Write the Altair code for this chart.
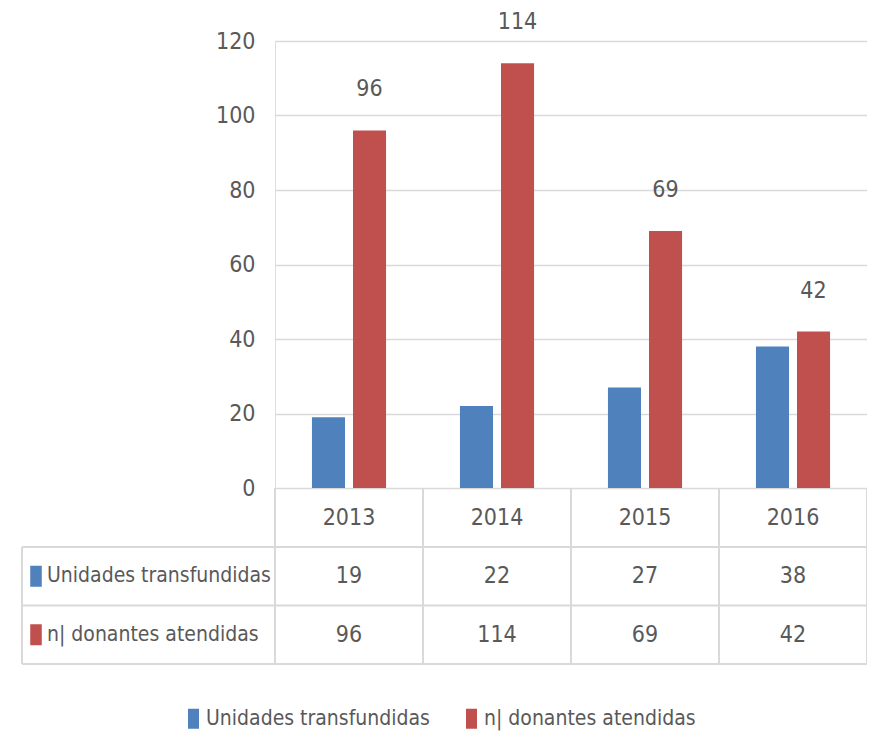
import altair as alt
import pandas as pd

years = ["2013", "2014", "2015", "2016"]
series = ["Unidades transfundidas", "n| donantes atendidas"]
unidades = [19, 22, 27, 38]
donantes = [96, 114, 69, 42]
colors = ["#4F81BD", "#C0504D"]
y_ticks = [0, 20, 40, 60, 80, 100, 120]

FONT = "DejaVu Sans Condensed, DejaVu Sans, sans-serif"
TXT = "#595959"
GRID = "#d9d9d9"
FS = 23      # numbers
FSL = 21     # long labels

rows = []
for i, yr in enumerate(years):
    rows.append({"year": yr, "series": series[0], "value": unidades[i]})
    rows.append({"year": yr, "series": series[1], "value": donantes[i]})
df = pd.DataFrame(rows)
df_years = pd.DataFrame({"year": years})
df_series = pd.DataFrame({"series": series})

x_scale = alt.Scale(domain=years, paddingInner=0, paddingOuter=0)
xo_scale = alt.Scale(domain=series, paddingInner=0.195, paddingOuter=0.9)
color_scale = alt.Scale(domain=series, range=colors)
ty_scale = alt.Scale(domain=series, range=[506, 623], paddingInner=0, paddingOuter=0)

RECT = "M-0.55,-1H0.55V1H-0.55Z"

bars = alt.Chart(df).mark_bar().encode(
    x=alt.X("year:N", scale=x_scale, axis=None),
    xOffset=alt.XOffset("series:N", scale=xo_scale, sort=series),
    y=alt.Y("value:Q", scale=alt.Scale(domain=[0, 120], nice=False),
            axis=alt.Axis(values=y_ticks, title=None, ticks=False, domain=False,
                          labelFontSize=FS, labelColor=TXT, labelPadding=20,
                          labelFont=FONT, grid=True, gridColor=GRID, gridWidth=1.5)),
    color=alt.Color("series:N", scale=color_scale, sort=series,
                    legend=alt.Legend(title=None, orient="none", direction="horizontal",
                                      legendX=-92, legendY=667,
                                      symbolType=RECT, symbolSize=400,
                                      symbolStrokeWidth=0, labelLimit=0,
                                      labelFontSize=FSL, labelColor=TXT, labelFont=FONT,
                                      labelOffset=2, columnPadding=31)),
)

labels = alt.Chart(df).transform_filter(
    alt.datum.series == series[1]
).mark_text(fontSize=FS, color=TXT, font=FONT, baseline="middle", dy=-41).encode(
    x=alt.X("year:N", scale=x_scale, axis=None),
    xOffset=alt.XOffset("series:N", scale=xo_scale, sort=series),
    y=alt.Y("value:Q", scale=alt.Scale(domain=[0, 120], nice=False), axis=None),
    text=alt.Text("value:Q"),
)

header = alt.Chart(df_years).mark_text(fontSize=FS, color=TXT, font=FONT, baseline="middle").encode(
    x=alt.X("year:N", scale=x_scale, axis=None),
    y=alt.value(477),
    text="year:N",
)

cells = alt.Chart(df).mark_text(fontSize=FS, color=TXT, font=FONT, baseline="middle").encode(
    x=alt.X("year:N", scale=x_scale, axis=None),
    y=alt.Y("series:N", scale=ty_scale, axis=None),
    text="value:Q",
)

row_labels = alt.Chart(df_series).mark_text(fontSize=FSL, color=TXT, font=FONT,
                                             baseline="middle", align="left").encode(
    x=alt.value(-228),
    y=alt.Y("series:N", scale=ty_scale, axis=None),
    text="series:N",
)

row_keys = alt.Chart(df_series).mark_point(shape=RECT, filled=True, size=441, opacity=1,
                                           strokeWidth=0).encode(
    x=alt.value(-239),
    y=alt.Y("series:N", scale=ty_scale, axis=None),
    color=alt.Color("series:N", scale=color_scale, sort=series),
)

vlines = alt.Chart(df_years).mark_rule(color=GRID, strokeWidth=2).encode(
    x=alt.X("year:N", scale=x_scale, axis=None, bandPosition=0),
    y=alt.value(447),
    y2=alt.value(623),
)

vline_last = alt.Chart(df_years).transform_filter(
    alt.datum.year == years[-1]
).mark_rule(color=GRID, strokeWidth=2).encode(
    x=alt.X("year:N", scale=x_scale, axis=None, bandPosition=1),
    y=alt.value(447),
    y2=alt.value(623),
)

hlines = alt.Chart(df_series).mark_rule(color=GRID, strokeWidth=2).encode(
    x=alt.value(-253),
    x2=alt.value(592),
    y=alt.Y("series:N", scale=ty_scale, axis=None, bandPosition=0),
)

hline_last = alt.Chart(df_series).transform_filter(
    alt.datum.series == series[-1]
).mark_rule(color=GRID, strokeWidth=2).encode(
    x=alt.value(-253),
    x2=alt.value(592),
    y=alt.Y("series:N", scale=ty_scale, axis=None, bandPosition=1),
)

left_border = alt.Chart(df_series).mark_rule(color=GRID, strokeWidth=2).encode(
    x=alt.value(-253),
    y=alt.value(506),
    y2=alt.value(623),
)

chart = alt.layer(
    bars, labels, vlines, vline_last, hlines, hline_last, left_border,
    header, cells, row_keys, row_labels,
).resolve_scale(y="independent").properties(
    width=592, height=447,
    autosize=alt.AutoSizeParams(type="none"),
    padding={"left": 267, "top": 33, "right": 0, "bottom": 246},
).configure_view(stroke=None).configure(font=FONT)

chart.save("out.html", embed_options={"renderer": "svg", "actions": False})
